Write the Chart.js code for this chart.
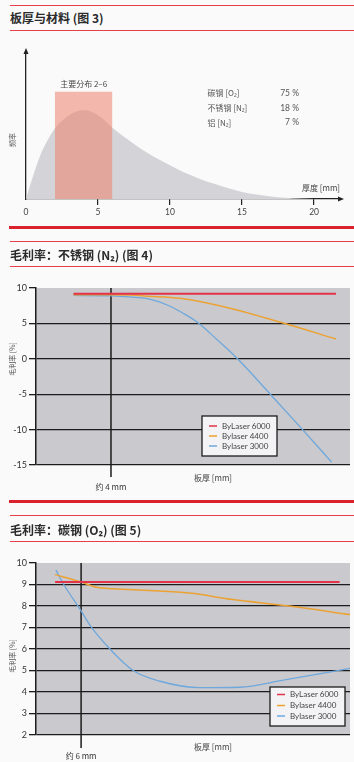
<!DOCTYPE html>
<html><head><meta charset="utf-8">
<script src="https://cdn.jsdelivr.net/npm/chart.js@4.4.1/dist/chart.umd.min.js"></script>
<style>
html,body{margin:0;padding:0;background:#fafafa;}
body{width:354px;height:762px;position:relative;overflow:hidden;font-family:"Noto Sans CJK SC","Noto Sans",sans-serif;}
.rule{position:absolute;left:10px;width:344px;background:#e3404a;height:1px;}
.thick{height:3px;background:#d9222c;left:9px;width:345px;}
.title{position:absolute;left:10px;font-size:12px;font-weight:bold;color:#2b2b2b;line-height:16px;white-space:nowrap;}
canvas{position:absolute;left:0;}
</style></head><body>
<div class="rule" style="top:5px"></div>
<div class="title" style="top:10px">板厚与材料 (图 3)</div>
<div class="rule" style="top:30px"></div>
<canvas id="c1" width="354" height="190" style="top:40px"></canvas>
<div class="rule thick" style="top:226px"></div>
<div class="rule" style="top:241px"></div>
<div class="title" style="top:247px">毛利率：不锈钢 (N₂) (图 4)</div>
<div class="rule" style="top:266px"></div>
<canvas id="c2" width="354" height="230" style="top:270px"></canvas>
<div class="rule thick" style="top:500px"></div>
<div class="rule" style="top:515px"></div>
<div class="title" style="top:522px">毛利率：碳钢 (O₂) (图 5)</div>
<div class="rule" style="top:541px"></div>
<canvas id="c3" width="354" height="217" style="top:545px"></canvas>
<script>
// ---------- DATA ----------
// Fig 3: thickness distribution
const thickness1 = [0,0.5,1,1.5,2,3,4,5,6,7,8,9,10,11,12,13,14,15,16,17,18,19,20];
const frequency1 = [0,16,30,40,48,57,60.3,57,48.5,41,34,28,23,18,14,10.5,7.5,4.8,3,1.7,0.9,0.4,0];
const mainRangeX = [2,6];
const mainRangeTop = 73;
const mainRangeLabel = '主要分布 2–6';
const materials = ['碳钢 [O₂]','不锈钢 [N₂]','铝 [N₂]'];
const materialShares = [75,18,7];
const xTickStep1 = 5;

// Series names
const seriesNames = ['ByLaser 6000','Bylaser 4400','Bylaser 3000'];

// Fig 4: stainless steel (N2)
const f4x6000 = [2,16];
const f4y6000 = [9.2,9.2];
const f4x4400 = [2,4,5,6,7.68,10.35,13.19,16];
const f4y4400 = [9.05,9.05,9.0,8.85,8.55,7.15,5.05,2.8];
const f4x3000 = [2,4,5,6,7,8,8.66,9.7,10.75,12.5,14.22,15.77];
const f4y3000 = [8.95,8.9,8.75,8.45,7.6,6.2,5.05,2.6,0,-5,-10,-14.6];
const f4Marker = 4;
const f4YTicks = [-15,-10,-5,0,5,10];

// Fig 5: carbon steel (O2)
const f5x6000 = [3,35.8];
const f5y6000 = [9.12,9.12];
const f5x4400 = [3,6,7.8,9.7,13.9,18.5,23.5,30,37];
const f5y4400 = [9.46,9.11,8.87,8.8,8.72,8.6,8.3,8.0,7.6];
const f5x3000 = [3.1,4,6,7.03,9.33,12,15.1,19.7,24.3,29.3,37];
const f5y3000 = [9.67,9.0,7.77,7.1,6.0,5.0,4.5,4.2,4.22,4.55,5.1];
const f5Marker = 6;
const f5YTicks = [2,3,4,5,6,7,8,9,10];

// ---------- HELPERS ----------
const zip = (xs, ys) => xs.map((x, i) => ({x, y: ys[i]}));
const CJK = '"Noto Sans CJK SC","Noto Sans",sans-serif';
const LAT = 'Lato,"Noto Sans",sans-serif';
const COLORS = ['#e2334a','#eca232','#6fa8dc'];
const WIDTHS = [2,1.5,1.3];

const common = {
  responsive:false, animation:false, events:[],
  elements:{point:{radius:0}, line:{cubicInterpolationMode:'monotone'}},
  plugins:{legend:{display:false}, tooltip:{enabled:false}}
};

// ---------- FIG 3 ----------
new Chart(document.getElementById('c1'), {
  type:'line',
  data:{datasets:[
    {data: zip(mainRangeX, [mainRangeTop, mainRangeTop]), fill:'origin', borderWidth:0,
     backgroundColor:'rgba(236,128,108,0.55)', tension:0, order:0},
    {data: zip(thickness1, frequency1), fill:'origin', borderWidth:0,
     backgroundColor:'#d4d4d8', order:1}
  ]},
  options:{...common,
    layout:{padding:{left:26,right:14,top:12,bottom:11}},
    scales:{
      x:{type:'linear', min:0, max:21.8,
         afterFit:s=>{s.height=20;},
         ticks:{stepSize:xTickStep1, includeBounds:false, color:'#444', padding:2, font:{family:LAT,size:8.5}},
         grid:{drawOnChartArea:false, tickLength:6, lineWidth:1.2,
               tickColor:c=>c.tick && c.tick.value===0?'rgba(0,0,0,0)':'#222'},
         border:{display:true,color:'#222',width:1.3}},
      y:{min:0, max:100, afterFit:s=>{s.width=0;},
         ticks:{display:false}, grid:{display:false, drawTicks:false},
         border:{display:true,color:'#222',width:1.3}}
    }
  },
  plugins:[{
    id:'deco1',
    afterDraw(chart){
      const {ctx, chartArea:a, scales:{x,y}} = chart;
      ctx.save();
      ctx.fillStyle='#222';
      ctx.beginPath(); ctx.moveTo(a.right+4,a.bottom); ctx.lineTo(a.right-2,a.bottom-2.5); ctx.lineTo(a.right-2,a.bottom+2.5); ctx.fill();
      ctx.beginPath(); ctx.moveTo(a.left,a.top-4); ctx.lineTo(a.left-2.5,a.top+2); ctx.lineTo(a.left+2.5,a.top+2); ctx.fill();
      ctx.fillStyle='#444'; ctx.textBaseline='middle';
      ctx.font='8px '+CJK; ctx.textAlign='center';
      ctx.fillText(mainRangeLabel, (x.getPixelForValue(mainRangeX[0])+x.getPixelForValue(mainRangeX[1]))/2, y.getPixelForValue(mainRangeTop)-8);
      ctx.fillStyle='#555';
      materials.forEach((m,i)=>{
        const yy = 53 + i*14.8;
        ctx.textAlign='left'; ctx.font='8px '+CJK; ctx.fillText(m, 207.5, yy);
        ctx.textAlign='right'; ctx.font='8.5px '+LAT; ctx.fillText(materialShares[i]+' %', 299, yy);
      });
      ctx.textAlign='right'; ctx.font='8px '+CJK; ctx.fillStyle='#444';
      ctx.fillText('厚度 [mm]', a.right, a.bottom-11);
      ctx.translate(12.5,100); ctx.rotate(-Math.PI/2);
      ctx.textAlign='center'; ctx.font='7px '+CJK; ctx.fillStyle='#555';
      ctx.fillText('频率',0,0);
      ctx.restore();
    }
  }]
});

// ---------- FIG 4 / FIG 5 ----------
function lineChart(id, xs, ys, xMin, xMax, yTicks, pad, marker, deco){
  const step = yTicks[1]-yTicks[0];
  const yMax = yTicks[yTicks.length-1];
  return new Chart(document.getElementById(id), {
    type:'line',
    data:{datasets: seriesNames.map((n,i)=>({
      label:n, data: zip(xs[i], ys[i]), borderColor:COLORS[i], borderWidth:WIDTHS[i], fill:false, order:i
    }))},
    options:{...common,
      layout:{padding:pad},
      scales:{
        x:{type:'linear', min:xMin, max:xMax, display:false},
        y:{min:yTicks[0], max:yMax, afterFit:s=>{s.width=36;},
           ticks:{stepSize:step, color:'#333', padding:2, font:{family:LAT,size:9}},
           grid:{color:c=>c.tick && c.tick.value===yMax?'rgba(0,0,0,0)':'#1c1c1c', tickColor:'#1c1c1c', lineWidth:1.3, tickLength:7},
           border:{display:true,color:'#1c1c1c',width:1.5}}
      }
    },
    plugins:[{
      id:'deco_'+id,
      beforeDraw(chart){
        const {ctx, chartArea:a} = chart;
        ctx.save(); ctx.fillStyle='#c9c9ce'; ctx.fillRect(a.left,a.top,a.right-a.left,a.bottom-a.top); ctx.restore();
      },
      beforeDatasetsDraw(chart){
        const {ctx, chartArea:a, scales:{x}} = chart;
        const px = x.getPixelForValue(marker);
        ctx.save(); ctx.strokeStyle='#1c1c1c'; ctx.lineWidth=1.5;
        ctx.beginPath(); ctx.moveTo(px,a.top); ctx.lineTo(px,deco.markerBottom); ctx.stroke();
        ctx.restore();
      },
      afterDatasetsDraw(chart){
        const {ctx, chartArea:a, scales:{x}} = chart;
        const px = x.getPixelForValue(marker);
        ctx.save();
        ctx.textBaseline='middle'; ctx.textAlign='center'; ctx.fillStyle='#333';
        ctx.font='8px '+CJK;
        ctx.fillText('约 '+marker+' mm', px, deco.markerLabelY);
        ctx.fillStyle='#444';
        ctx.fillText('板厚 [mm]', 213, deco.xTitleY);
        // legend
        const b = deco.legend;
        ctx.fillStyle='#f3f3f5'; ctx.fillRect(b.x,b.y,b.w,b.h);
        ctx.strokeStyle='#1c1c1c'; ctx.lineWidth=1.3; ctx.strokeRect(b.x,b.y,b.w,b.h);
        chart.data.datasets.forEach((d,i)=>{
          const yy = b.rows[i];
          ctx.strokeStyle=d.borderColor; ctx.lineWidth=1.5;
          ctx.beginPath(); ctx.moveTo(b.x+7,yy); ctx.lineTo(b.x+15,yy); ctx.stroke();
          ctx.fillStyle='#444'; ctx.textAlign='left'; ctx.font='8px '+LAT;
          ctx.fillText(d.label, b.x+20, yy);
        });
        // y title
        ctx.translate(12, deco.yTitleY); ctx.rotate(-Math.PI/2);
        ctx.textAlign='center'; ctx.font='7px '+CJK; ctx.fillStyle='#555';
        ctx.fillText('毛利率 [%]',0,0);
        ctx.restore();
      }
    }]
  });
}

lineChart('c2', [f4x6000,f4x4400,f4x3000], [f4y6000,f4y4400,f4y3000], 0, 16.75, f4YTicks,
  {left:0,right:4,top:18,bottom:35}, f4Marker,
  {markerBottom:207, markerLabelY:217, xTitleY:208, yTitleY:89,
   legend:{x:202,y:146,w:75,h:40,rows:[156,166,176]}});

lineChart('c3', [f5x6000,f5x4400,f5x3000], [f5y6000,f5y4400,f5y3000], 0.8, 37, f5YTicks,
  {left:0,right:4,top:18,bottom:27}, f5Marker,
  {markerBottom:203, markerLabelY:211, xTitleY:202, yTitleY:111,
   legend:{x:270,y:142,w:75,h:39,rows:[149.5,160.5,171]}});
</script>
</body></html>
